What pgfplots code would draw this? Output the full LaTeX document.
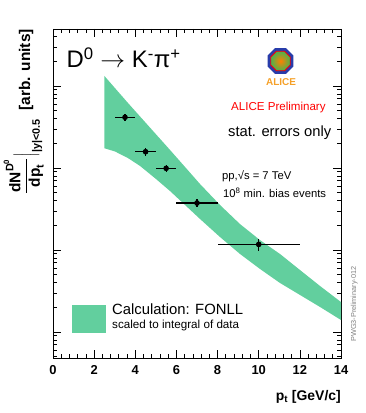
\documentclass[border=0pt]{standalone}
\usepackage{pgfplots}
\pgfplotsset{compat=1.18}
\usepackage{amsmath}
\usepackage{fontspec}
\setmainfont{Liberation Sans}
\usetikzlibrary{shapes.geometric}

\definecolor{fonll}{RGB}{98,207,158}
\definecolor{aliceorange}{RGB}{245,160,40}
\definecolor{aliceblue}{RGB}{40,60,170}
\newcommand{\fs}[1]{\fontsize{#1}{#1}\selectfont}

\begin{document}
\begin{tikzpicture}
\path[use as bounding box] (0bp,0bp) rectangle (366bp,413bp);
\begin{axis}[
  at={(53bp,55bp)}, anchor=south west,
  scale only axis, width=288bp, height=329bp,
  xmin=0, xmax=14,
  ymode=log, ymin=0.482, ymax=4955,
  xtick={0,2,...,14}, minor x tick num=4,
  ytick={1,10,100,1000}, yticklabels={},
  minor ytick={0.5,0.6,0.7,0.8,0.9,2,3,4,5,6,7,8,9,20,30,40,50,60,70,80,90,200,300,400,500,600,700,800,900,2000,3000,4000},
  tick pos=both, tick align=inside,
  major tick length=8bp, minor tick length=4bp,
  axis line style={line width=0.8bp},
  every tick/.style={line width=0.7bp, black},
  /pgf/number format/assume math mode=true,
  xticklabel style={font=\bfseries\fs{13}, yshift=-4bp},
]
% FONLL band: upper edge left to right, lower edge back
\addplot[fill=fonll, draw=none] coordinates {
  (2.5,1324) (3.646,620) (4.861,283) (5.688,166) (6.417,103) (7.146,63.8)
  (8.118,35.4) (9.091,20.7) (10.063,13.2) (11.035,8.94) (12.007,5.70)
  (12.98,3.64) (14,2.32)
  (14,1.40) (12.98,2.02) (12.007,2.83) (11.035,3.96) (10.063,5.87)
  (9.091,8.94) (8.118,14.4) (7.146,23.9) (6.417,35.4) (5.688,52.4)
  (5.007,73.4) (4.229,106) (3.646,132) (3.014,159) (2.5,174)
};
% data
\addplot[only marks, mark=*, mark size=2.2bp, black, line width=1.2bp,
  error bars/.cd, x dir=both, x explicit, y dir=both, y explicit,
  error mark=none, error bar style={line width=1.2bp}]
  coordinates {
  (3.5,415) +- (0.5,42)
  (4.5,158) +- (0.5,16)
  (5.5,99) +- (0.5,10)
  (7,37.4) +- (1,4.3)
  (10,11.7) +- (2,1.9)
};
\end{axis}

% y label
\node[rotate=90, anchor=base east, font=\bfseries\fs{15.5}, inner sep=0] at (30bp,384bp)
  {$\dfrac{\text{dN}^{\text{D}^{\text{0}}}}{\text{dp}_{\text{t}}}\Big|_{\text{|y|<0.5}}$ \ [arb. units]};
% x label
\node[anchor=base east, font=\bfseries\fs{14}, inner sep=0] at (341bp,13bp) {p\textsubscript{t} [GeV/c]};

% title
\node[anchor=base west, font=\fs{24}, inner sep=0] at (66.5bp,345bp)
  {D\textsuperscript{0} $\rightarrow$ K\textsuperscript{-}π\textsuperscript{+}};

% ALICE logo
\node[regular polygon, regular polygon sides=8, minimum size=28bp, inner sep=0,
  fill=aliceblue] at (280.5bp,352bp) {};
\node[regular polygon, regular polygon sides=8, minimum size=21bp, inner sep=0,
  draw=red, line width=0.8bp, shading=radial, inner color=orange, outer color=gray!60!green] at (280.5bp,352bp) {};
\node[font=\bfseries\fs{10}, text=aliceorange, inner sep=0] at (281bp,331bp) {ALICE};

\node[anchor=base west, font=\fs{11.6}, text=red, inner sep=0] at (231bp,302bp) {ALICE Preliminary};
\node[anchor=base west, font=\fs{14.8}, inner sep=0] at (228bp,276bp) {stat. errors only};
\node[anchor=base west, font=\fs{11.3}, inner sep=0] at (222bp,233bp) {pp,√s = 7 TeV};
\node[anchor=base west, font=\fs{11.3}, inner sep=0] at (223bp,215.5bp) {10\textsuperscript{8} min. bias events};

% legend
\fill[fonll] (72.3bp,79.7bp) rectangle (105.7bp,108bp);
\node[anchor=base west, font=\fs{14.9}, inner sep=0] at (112bp,98bp) {Calculation: FONLL};
\node[anchor=base west, font=\fs{11.7}, inner sep=0] at (112bp,84.7bp) {scaled to integral of data};

\node[rotate=90, anchor=base west, font=\fs{7.3}, text=gray, inner sep=0] at (356bp,71.3bp) {PWG3-Preliminary-012};
\end{tikzpicture}
\end{document}
